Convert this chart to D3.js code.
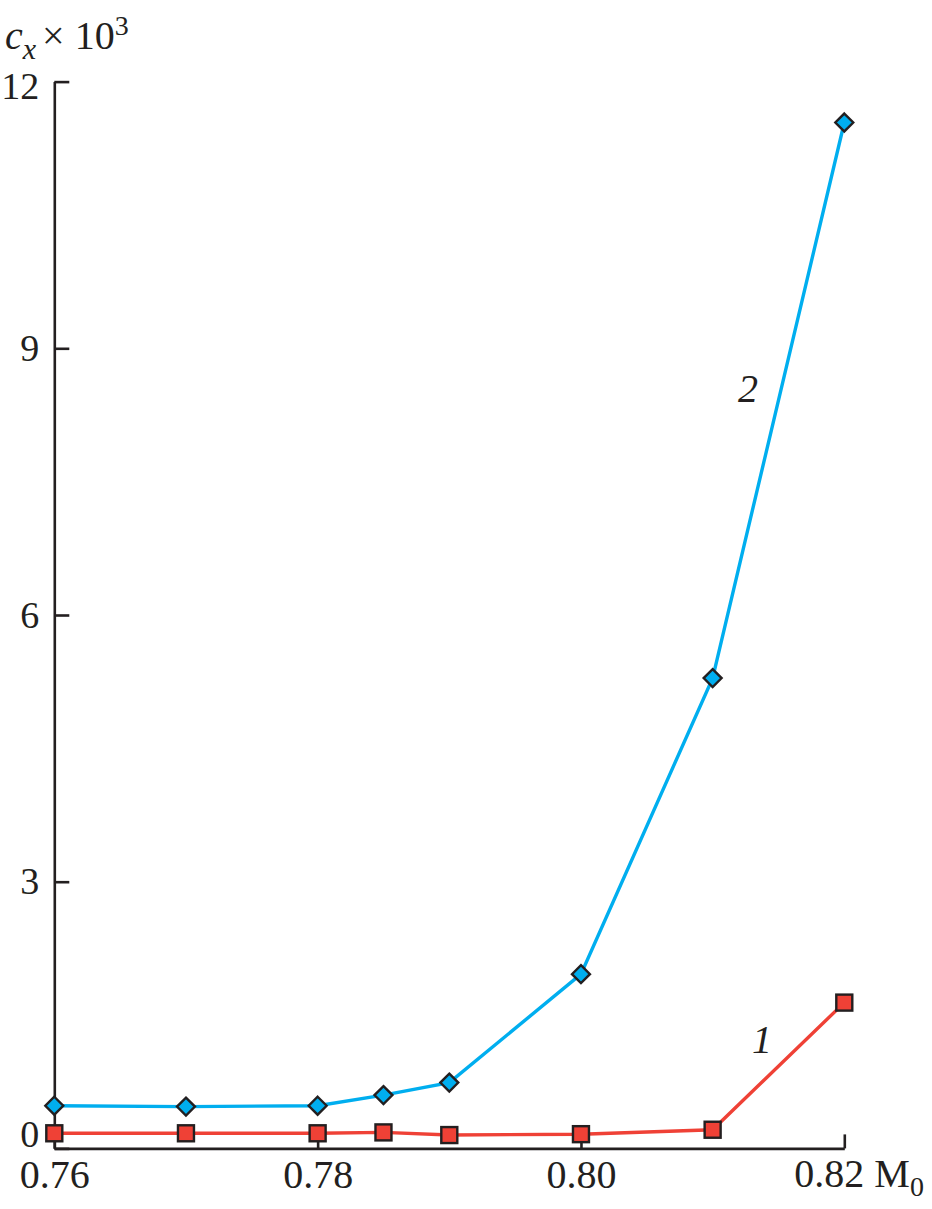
<!DOCTYPE html>
<html>
<head>
<meta charset="utf-8">
<script src="https://cdn.jsdelivr.net/npm/d3@7"></script>
<style>
  body { margin: 0; background: #fff; }
  svg { display: block; }
  svg text { font-family: "Liberation Serif", "Times New Roman", Times, serif; }
  .axis path, .axis line { stroke: #231f20; stroke-width: 2.6; }
  .axis text { font-size: 40px; fill: #231f20; }
</style>
</head>
<body>
<div id="chart"></div>
<script>
// data
const machNumbers = [0.76, 0.77, 0.78, 0.785, 0.79, 0.80, 0.81, 0.82];
const series1 = [0.17, 0.17, 0.17, 0.18, 0.15, 0.16, 0.21, 1.64];   // curve 1, squares
const series2 = [0.48, 0.47, 0.48, 0.60, 0.74, 1.96, 5.29, 11.54];  // curve 2, diamonds
const xTicks = [0.76, 0.78, 0.80, 0.82];
const yTicks = [0, 3, 6, 9, 12];

const width = 932, height = 1209;
const margin = {top: 81.6, left: 54.3, right: 87.7, bottom: 60.6};

const svg = d3.select('#chart').append('svg')
    .attr('width', width).attr('height', height);

const x = d3.scaleLinear().domain([0.76, 0.82]).range([margin.left, width - margin.right]);
const y = d3.scaleLinear().domain([0, 12]).range([height - margin.bottom, margin.top]);

// x axis, ticks pointing inward
svg.append('g').attr('class', 'axis')
    .attr('transform', `translate(0, ${y(0)})`)
    .call(d3.axisBottom(x).tickValues(xTicks).tickSize(-14).tickSizeOuter(0)
        .tickPadding(11).tickFormat(d => d === 0.82 ? '' : d3.format('.2f')(d)));

// y axis
const yAxis = svg.append('g').attr('class', 'axis')
    .attr('transform', `translate(${x(0.76)}, 0)`)
    .call(d3.axisLeft(y).tickValues(yTicks).tickSize(-15).tickSizeOuter(0)
        .tickPadding(15).tickFormat(d3.format('d')));
yAxis.selectAll('.tick text')
    .style('font-size', '38px')
    .attr('dy', d => d === 12 ? '0.45em' : d === 0 ? '-0.05em' : '0.32em');

// last x label with axis name
const lastLabel = svg.append('text')
    .attr('x', x(0.82) - 50).attr('y', y(0) + 39)
    .style('font-size', '40px').attr('fill', '#231f20');
lastLabel.append('tspan').text('0.82 M');
lastLabel.append('tspan').attr('dy', 9).style('font-size', '28px').text('0');

// y axis title: c_x × 10^3
const yTitle = svg.append('text')
    .attr('x', 5).attr('y', 49)
    .style('font-size', '40px').attr('fill', '#231f20');
yTitle.append('tspan').style('font-style', 'italic').text('c');
yTitle.append('tspan').style('font-style', 'italic').style('font-size', '30px').attr('dy', 10).text('x');
yTitle.append('tspan').attr('dy', -10).attr('dx', 6).text('× 10');
yTitle.append('tspan').style('font-size', '28px').attr('dy', -14).text('3');

const line = d3.line().x(d => x(d[0])).y(d => y(d[1]));
const pts1 = machNumbers.map((m, i) => [m, series1[i]]);
const pts2 = machNumbers.map((m, i) => [m, series2[i]]);

svg.append('path').datum(pts1).attr('d', line)
    .attr('fill', 'none').attr('stroke', '#ef4136').attr('stroke-width', 3.4);
svg.append('path').datum(pts2).attr('d', line)
    .attr('fill', 'none').attr('stroke', '#00aeef').attr('stroke-width', 3.4);

// markers
svg.selectAll('.sq').data(pts1).enter().append('rect')
    .attr('class', 'sq')
    .attr('x', d => x(d[0]) - 8).attr('y', d => y(d[1]) - 8)
    .attr('width', 16).attr('height', 16)
    .attr('fill', '#ef4136').attr('stroke', '#231f20').attr('stroke-width', 2.4);

const diamond = d3.symbol().type(d3.symbolDiamond2).size(205);
svg.selectAll('.dm').data(pts2).enter().append('path')
    .attr('class', 'dm')
    .attr('transform', d => `translate(${x(d[0])}, ${y(d[1])})`)
    .attr('d', diamond)
    .attr('fill', '#00aeef').attr('stroke', '#231f20').attr('stroke-width', 2.4);

// curve numbers
svg.append('text').attr('x', 738).attr('y', 402)
    .style('font-size', '40px').style('font-style', 'italic').attr('fill', '#231f20').text('2');
svg.append('text').attr('x', 752).attr('y', 1053)
    .style('font-size', '40px').style('font-style', 'italic').attr('fill', '#231f20').text('1');
</script>
</body>
</html>
